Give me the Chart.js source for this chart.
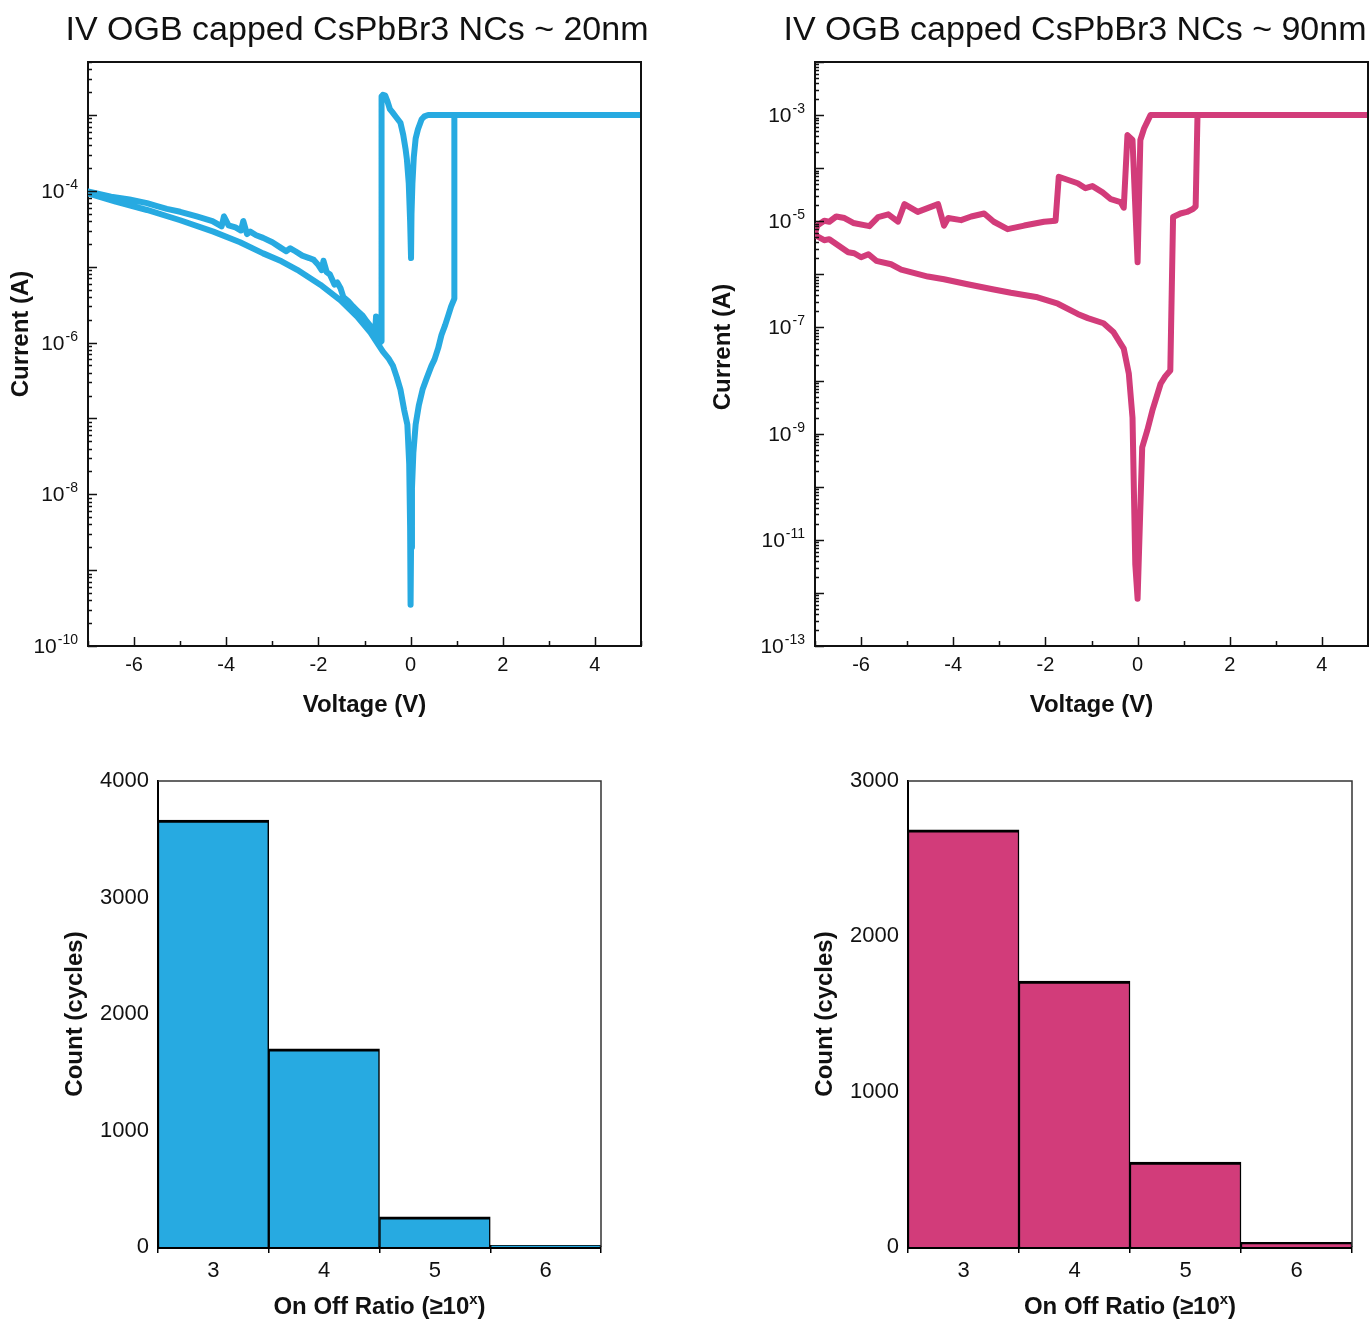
<!DOCTYPE html>
<html>
<head>
<meta charset="utf-8">
<title>IV OGB capped CsPbBr3 NCs</title>
<script src="https://cdn.jsdelivr.net/npm/chart.js@4.4.0/dist/chart.umd.min.js"></script>
<style>
  html, body { margin: 0; padding: 0; background: #fff; overflow: hidden; }
  body { width: 1369px; height: 1319px; position: relative; }
  canvas { position: absolute; }
</style>
</head>
<body>
<canvas id="iv20" width="715" height="740" style="left:0;top:0"></canvas>
<canvas id="iv90" width="750" height="740" style="left:700px;top:0"></canvas>
<canvas id="hist20" width="700" height="579" style="left:0;top:740px"></canvas>
<canvas id="hist90" width="669" height="579" style="left:700px;top:740px"></canvas>
<script>
const FONT = '"Liberation Sans", Arial, Helvetica, sans-serif';
Chart.defaults.font.family = FONT;
Chart.defaults.color = "#111";

const BLUE = "#27aae1";
const PINK = "#d23c7a";

// ~20 nm crystals: one full sweep, 0 -> +5 -> -7 -> 0 V
const iv20Voltage = [
  0.00, 0.01, 0.03, 0.06, 0.11, 0.18, 0.26, 0.35, 0.45, 0.52, 0.60, 0.67, 0.75, 0.82, 0.88, 0.95,
  0.95, 5.00,
  0.38, 0.30, 0.24, 0.16, 0.11, 0.07, 0.04, 0.02, 0.01,
  -0.01, -0.04, -0.08, -0.11, -0.16, -0.22, -0.32, -0.40, -0.45, -0.50, -0.55, -0.60, -0.63,
  -0.63, -0.66, -0.70, -0.74, -0.75, -0.77, -0.85, -0.95, -1.05, -1.15, -1.25, -1.35, -1.46,
  -1.52, -1.59, -1.65, -1.75, -1.82, -1.89, -1.93, -2.00, -2.10, -2.20, -2.35, -2.50, -2.61,
  -2.70, -2.83, -3.00, -3.20, -3.35, -3.48, -3.55, -3.63, -3.68, -3.80, -3.95, -4.05, -4.10,
  -4.30, -4.64, -5.00, -5.29, -5.50, -5.72, -6.10, -6.50, -7.00,
  -7.00, -6.40, -5.72, -5.00, -4.28, -3.70, -3.20, -2.80, -2.46, -1.96, -1.52, -1.16, -0.87, -0.75,
  -0.60, -0.48, -0.38, -0.30, -0.22, -0.14, -0.07, -0.03, -0.01, 0.00
];
const iv20Current = [
  3.5e-10, 2e-9, 1.2e-8, 3.5e-8, 8.3e-8, 1.5e-7, 2.4e-7, 3.4e-7, 4.9e-7, 6.0e-7, 8.5e-7, 1.26e-6, 1.7e-6, 2.3e-6, 3.0e-6, 3.8e-6,
  1e-3, 1e-3,
  1e-3, 9.6e-4, 8.8e-4, 6.5e-4, 4.9e-4, 2.8e-4, 1.26e-4, 5e-5, 1.3e-5,
  4e-5, 1.26e-4, 2.6e-4, 3.6e-4, 5.5e-4, 7.9e-4, 9.5e-4, 1.1e-3, 1.2e-3, 1.5e-3, 1.8e-3, 1.85e-3, 1.75e-3,
  1.05e-6, 1.0e-6, 1.15e-6, 1.3e-6, 2.2e-6, 1.3e-6, 1.6e-6, 1.9e-6, 2.3e-6, 2.6e-6, 3.0e-6, 3.5e-6, 4.0e-6,
  5.2e-6, 6.2e-6, 5.8e-6, 7.9e-6, 8.5e-6, 1.2e-5, 9e-6, 1.05e-5, 1.23e-5, 1.3e-5, 1.4e-5, 1.6e-5, 1.75e-5,
  1.6e-5, 1.8e-5, 2.1e-5, 2.4e-5, 2.6e-5, 2.9e-5, 2.7e-5, 4.0e-5, 3.0e-5, 3.3e-5, 3.5e-5, 4.6e-5, 3.4e-5,
  4.0e-5, 4.6e-5, 5.3e-5, 5.8e-5, 6.3e-5, 6.9e-5, 7.7e-5, 8.4e-5, 9.8e-5,
  9.3e-5, 7.2e-5, 5.6e-5, 4.1e-5, 2.9e-5, 2.1e-5, 1.5e-5, 1.18e-5, 9.1e-6, 5.8e-6, 3.6e-6, 2.2e-6, 1.35e-6, 1.05e-6,
  7.6e-7, 6.2e-7, 4.9e-7, 3.5e-7, 2.4e-7, 1.3e-7, 8.3e-8, 2.5e-8, 3.6e-9, 3.5e-10
];

// ~90 nm crystals
const iv90Voltage = [
  0.00, 0.10, 0.21, 0.32, 0.50, 0.60, 0.71, 0.77, 0.93, 1.07, 1.20, 1.26, 1.30, 5.00,
  0.28, 0.14, 0.06, 0.00, -0.11, -0.22, -0.30,
  -0.37, -0.58, -0.76, -0.98, -1.13, -1.30, -1.71, -1.78, -2.03, -2.46, -2.82, -3.12, -3.33,
  -3.61, -3.83, -4.11, -4.20, -4.33, -4.77, -5.06, -5.20, -5.41, -5.63, -5.82, -6.17, -6.36,
  -6.54, -6.69, -6.80, -6.95, -7.00,
  -7.00, -6.80, -6.69, -6.28, -6.15, -6.00, -5.84, -5.67, -5.35, -5.13, -4.55, -4.20, -3.69,
  -3.12, -2.75, -2.17, -1.73, -1.30, -1.08, -0.74, -0.52, -0.30, -0.19, -0.11, -0.05, 0.00
];
const iv90Current = [
  7.8e-13, 5.5e-10, 1.15e-9, 2.7e-9, 8.7e-9, 1.2e-8, 1.55e-8, 1.2e-5, 1.4e-5, 1.5e-5, 1.7e-5, 1.9e-5, 1e-3, 1e-3,
  1e-3, 5.6e-4, 3.4e-4, 1.7e-6, 3.4e-4, 4.2e-4, 1.8e-5,
  2.3e-5, 2.6e-5, 3.5e-5, 4.6e-5, 4.2e-5, 5.2e-5, 6.9e-5, 1.02e-5, 9.8e-6, 8.3e-6, 7.1e-6, 9.8e-6, 1.4e-5,
  1.23e-5, 1.05e-5, 1.15e-5, 8.3e-6, 2.1e-5, 1.5e-5, 2.1e-5, 9.8e-6, 1.35e-5, 1.2e-5, 8.1e-6, 9.3e-6, 1.15e-5,
  1.23e-5, 9.8e-6, 1.02e-5, 8.3e-6, 5.9e-6,
  5.5e-6, 4.4e-6, 4.6e-6, 2.6e-6, 2.5e-6, 2.1e-6, 2.4e-6, 1.8e-6, 1.55e-6, 1.23e-6, 9.1e-7, 8.1e-7, 6.5e-7,
  5.2e-7, 4.5e-7, 3.7e-7, 2.8e-7, 1.8e-7, 1.5e-7, 1.2e-7, 8.1e-8, 4.0e-8, 1.35e-8, 2.0e-9, 3.5e-12, 7.8e-13
];

const voltageLabels = [-6, -4, -2, 0, 2, 4];
const iv20Exponents = [-10, -8, -6, -4];
const iv90Exponents = [-13, -11, -9, -7, -5, -3];

// on/off ratio histograms
const ratioBins = ["3", "4", "5", "6"];
const counts20 = [3665, 1700, 258, 15];
const counts90 = [2685, 1712, 547, 30];

// title, box, inward ticks, 10^n labels and the rotated y title
const ivFrame = {
  id: "ivFrame",
  afterDraw(chart, args, opts) {
    const { ctx, chartArea: a, scales: { x, y } } = chart;
    ctx.save();
    ctx.fillStyle = "#111";
    ctx.font = "34px " + FONT;
    ctx.textAlign = "center";
    ctx.textBaseline = "middle";
    ctx.fillText(opts.title, opts.titleCX, 31);

    ctx.strokeStyle = "#111";
    ctx.lineWidth = 2;
    ctx.beginPath();
    ctx.moveTo(a.left, a.top);
    ctx.lineTo(a.right, a.top);
    ctx.lineTo(a.right, a.bottom);
    ctx.stroke();

    ctx.lineWidth = 1.5;
    ctx.beginPath();
    for (let v = Math.ceil(x.min); v <= x.max; v++) {
      const px = Math.round(x.getPixelForValue(v)) + 0.5;
      ctx.moveTo(px, a.bottom);
      ctx.lineTo(px, a.bottom - (v % 2 === 0 ? 9 : 5));
    }
    const lo = Math.floor(Math.log10(y.min));
    const hi = Math.ceil(Math.log10(y.max));
    for (let e = lo; e <= hi; e++) {
      for (let k = 1; k <= 9; k++) {
        const v = k * Math.pow(10, e);
        if (v < y.min * 0.999 || v > y.max * 1.001) continue;
        const py = Math.round(y.getPixelForValue(v)) + 0.5;
        ctx.moveTo(a.left, py);
        ctx.lineTo(a.left + (k === 1 ? 9 : 4), py);
      }
    }
    ctx.stroke();

    ctx.textAlign = "right";
    ctx.textBaseline = "alphabetic";
    opts.exponents.forEach(e => {
      const py = y.getPixelForValue(Math.pow(10, e));
      const right = a.left - 10;
      ctx.font = "14px " + FONT;
      ctx.fillText(String(e), right, py - 2);
      const w = ctx.measureText(String(e)).width;
      ctx.font = "21px " + FONT;
      ctx.fillText("10", right - w - 1, py + 7);
    });

    ctx.font = "bold 24px " + FONT;
    ctx.textAlign = "center";
    ctx.textBaseline = "middle";
    ctx.translate(opts.yTitleX, opts.yTitleY);
    ctx.rotate(-Math.PI / 2);
    ctx.fillText("Current (A)", 0, 0);
    ctx.restore();
  }
};

function ivChart(id, title, titleCX, volts, amps, color, yMin, yMax, exponents, axisWidth, yTitleX, yTitleY) {
  const points = volts.map((v, i) => ({ x: v, y: amps[i] }));
  return new Chart(document.getElementById(id), {
    type: "scatter",
    data: {
      datasets: [{
        data: points,
        showLine: true,
        borderColor: color,
        borderWidth: 6,
        borderJoinStyle: "round",
        borderCapStyle: "round",
        pointRadius: 0,
        tension: 0
      }]
    },
    options: {
      responsive: false,
      animation: false,
      layout: { padding: { left: 0, top: 62, right: id === "iv20" ? 74 : 82, bottom: 0 } },
      plugins: {
        legend: { display: false },
        tooltip: { enabled: false },
        title: { display: false },
        ivFrame: { title, titleCX, exponents, yTitleX, yTitleY }
      },
      scales: {
        x: {
          type: "linear",
          min: -7,
          max: 5,
          grid: { display: false, drawTicks: false },
          border: { color: "#111", width: 2 },
          ticks: {
            stepSize: 1,
            autoSkip: false,
            maxRotation: 0,
            padding: 7,
            font: { size: 20 },
            callback: v => (voltageLabels.includes(v) ? String(v) : "")
          },
          title: {
            display: true,
            text: "Voltage (V)",
            font: { size: 24, weight: "bold" },
            padding: { top: 0, bottom: 20.6 }
          },
          afterFit: s => { s.height = 94; }
        },
        y: {
          type: "logarithmic",
          min: yMin,
          max: yMax,
          grid: { display: false, drawTicks: false },
          border: { color: "#111", width: 2 },
          ticks: { display: false },
          afterFit: s => { s.width = axisWidth; }
        }
      }
    },
    plugins: [ivFrame]
  });
}

ivChart("iv20", "IV OGB capped CsPbBr3 NCs ~ 20nm", 357, iv20Voltage, iv20Current, BLUE,
  1e-10, 5e-3, iv20Exponents, 88, 21, 334);
ivChart("iv90", "IV OGB capped CsPbBr3 NCs ~ 90nm", 375, iv90Voltage, iv90Current, PINK,
  1e-13, 1e-2, iv90Exponents, 115, 23, 347);

// thin top/right edges and the ratio axis title with ≥ and superscript x
const histFrame = {
  id: "histFrame",
  afterDraw(chart) {
    const { ctx, chartArea: a } = chart;
    ctx.save();
    ctx.strokeStyle = "#333";
    ctx.lineWidth = 1.5;
    ctx.beginPath();
    ctx.moveTo(a.left, a.top);
    ctx.lineTo(a.right, a.top);
    ctx.lineTo(a.right, a.bottom);
    ctx.stroke();

    const big = "bold 24px " + FONT;
    const small = "bold 15px " + FONT;
    const parts = [["On Off Ratio (\u226510", big, 0], ["x", small, -10], [")", big, 0]];
    let total = 0;
    parts.forEach(p => { ctx.font = p[1]; total += ctx.measureText(p[0]).width; });
    let cx = (a.left + a.right) / 2 - total / 2;
    const base = a.bottom + 67;
    ctx.fillStyle = "#111";
    ctx.textAlign = "left";
    ctx.textBaseline = "alphabetic";
    parts.forEach(p => {
      ctx.font = p[1];
      ctx.fillText(p[0], cx, base + p[2]);
      cx += ctx.measureText(p[0]).width;
    });
    ctx.restore();
  }
};

function histChart(id, counts, color, yMax, axisWidth, titlePad) {
  return new Chart(document.getElementById(id), {
    type: "bar",
    data: {
      labels: ratioBins,
      datasets: [{
        data: counts,
        backgroundColor: color,
        borderColor: "#000",
        borderWidth: { top: 3, left: 1.5, right: 1.5, bottom: 0 },
        borderSkipped: false,
        barPercentage: 1,
        categoryPercentage: 1
      }]
    },
    options: {
      responsive: false,
      animation: false,
      layout: { padding: { left: 0, top: 41, right: id === "hist20" ? 99 : 17, bottom: 0 } },
      plugins: { legend: { display: false }, tooltip: { enabled: false } },
      scales: {
        x: {
          z: 1,
          grid: { display: true, drawOnChartArea: false, drawTicks: true, tickLength: 6, color: "#000", lineWidth: 1.5 },
          border: { color: "#000", width: 3 },
          ticks: { font: { size: 22 }, padding: 5, maxRotation: 0 },
          afterFit: s => { s.height = 72; }
        },
        y: {
          min: 0,
          max: yMax,
          grid: { display: false, drawTicks: false },
          border: { color: "#000", width: 2 },
          ticks: { stepSize: 1000, font: { size: 22 }, padding: 9, callback: v => String(v) },
          title: {
            display: true,
            text: "Count (cycles)",
            font: { size: 24, weight: "bold" },
            padding: { top: titlePad, bottom: 0 }
          },
          afterFit: s => { s.width = axisWidth; }
        }
      }
    },
    plugins: [histFrame]
  });
}

histChart("hist20", counts20, BLUE, 4000, 158, 60.6);
histChart("hist90", counts90, PINK, 3000, 208, 110.6);
</script>
</body>
</html>
